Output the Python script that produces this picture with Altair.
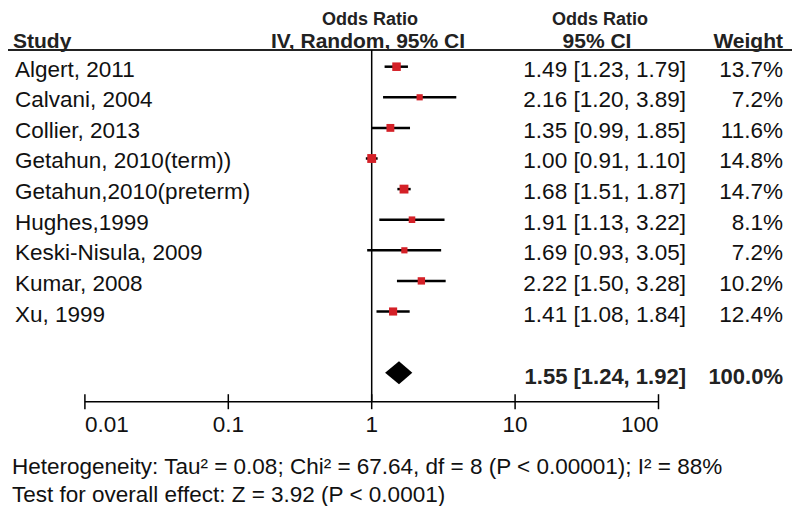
import altair as alt
import pandas as pd

# ---- data ----
studies = ["Algert, 2011", "Calvani, 2004", "Collier, 2013", "Getahun, 2010(term))",
           "Getahun,2010(preterm)", "Hughes,1999", "Keski-Nisula, 2009", "Kumar, 2008", "Xu, 1999"]
odds = [1.49, 2.16, 1.35, 1.00, 1.68, 1.91, 1.69, 2.22, 1.41]
ci_low = [1.23, 1.20, 0.99, 0.91, 1.51, 1.13, 0.93, 1.50, 1.08]
ci_high = [1.79, 3.89, 1.85, 1.10, 1.87, 3.22, 3.05, 3.28, 1.84]
weights = [13.7, 7.2, 11.6, 14.8, 14.7, 8.1, 7.2, 10.2, 12.4]

total_or = 1.55
total_low = 1.24
total_high = 1.92
total_weight = 100.0

tick_values = [0.01, 0.1, 1, 10, 100]
tick_labels = ["0.01", "0.1", "1", "10", "100"]

header1 = ["Odds Ratio", "Odds Ratio"]
header2 = ["Study", "IV, Random, 95% CI", "95% CI", "Weight"]
footer = ["Heterogeneity: Tau\u00b2 = 0.08; Chi\u00b2 = 67.64, df = 8 (P < 0.00001); I\u00b2 = 88%",
          "Test for overall effect: Z = 3.92 (P < 0.0001)"]

# ---- layout ----
W, H = 784, 498
FONT = "Liberation Sans"
BODY = 22.5
HEAD = 21
summary_row = len(studies) + 1
axis_y = 393.7
line_y = 42

df = pd.DataFrame({
    "study": studies, "or": odds, "lo": ci_low, "hi": ci_high, "weight": weights,
    "row": list(range(len(studies))),
})
df["ci_text"] = [f"{o:.2f} [{l:.2f}, {h:.2f}]" for o, l, h in zip(odds, ci_low, ci_high)]
df["w_text"] = [f"{w:.1f}%" for w in weights]

x_scale = alt.Scale(type="log", domain=[0.002909, 853.1], nice=False)
y_scale = alt.Scale(domain=[-1.918, 14.356], reverse=True, nice=False, zero=False)

X = lambda f: alt.X(f, type="quantitative", scale=x_scale, axis=None)
Y = lambda f: alt.Y(f, type="quantitative", scale=y_scale, axis=None)

base = alt.Chart(df)

ci_lines = base.mark_rule(color="black", strokeWidth=2.5).encode(
    x=X("lo"), x2="hi", y=Y("row"))
squares = base.mark_square(filled=True, color="#d42027", opacity=1).encode(
    x=X("or"), y=Y("row"),
    size=alt.Size("weight:Q", scale=alt.Scale(domain=[0, 15], range=[0, 80]), legend=None))

txt_kw = dict(baseline="alphabetic", font=FONT, fontSize=BODY, color="#111", dy=10)
study_text = base.mark_text(align="left", **txt_kw).encode(
    x=alt.value(7), y=Y("row"), text="study:N")
ci_text = base.mark_text(align="right", **txt_kw).encode(
    x=alt.value(678), y=Y("row"), text="ci_text:N")
w_text = base.mark_text(align="right", **txt_kw).encode(
    x=alt.value(775), y=Y("row"), text="w_text:N")

# summary diamond
half = 0.376
dia = pd.DataFrame({
    "x": [total_low, total_or, total_high],
    "y1": [summary_row, summary_row - half, summary_row],
    "y2": [summary_row, summary_row + half, summary_row],
})
diamond = alt.Chart(dia).mark_area(color="black", opacity=1).encode(
    x=X("x"), y=Y("y1"), y2="y2")

summ = pd.DataFrame({
    "row": [summary_row],
    "ci": [f"{total_or:.2f} [{total_low:.2f}, {total_high:.2f}]"],
    "w": [f"{total_weight:.1f}%"],
})
sum_kw = dict(baseline="alphabetic", font=FONT, fontSize=22, fontWeight="bold", color="#222", dy=11)
summ_ci = alt.Chart(summ).mark_text(align="right", **sum_kw).encode(
    x=alt.value(678), y=Y("row"), text="ci:N")
summ_w = alt.Chart(summ).mark_text(align="right", **sum_kw).encode(
    x=alt.value(775), y=Y("row"), text="w:N")

# reference line at OR = 1
ref = alt.Chart(pd.DataFrame({"v": [1.0]})).mark_rule(color="black", strokeWidth=1.5).encode(
    x=X("v"), y=alt.value(line_y), y2=alt.value(axis_y))

# axis
ticks_df = pd.DataFrame({"t": tick_values, "label": tick_labels})
axis_line = alt.Chart(pd.DataFrame({"a": [min(tick_values)], "b": [max(tick_values)]})).mark_rule(
    color="black", strokeWidth=1.5).encode(x=X("a"), x2="b", y=alt.value(axis_y))
ticks = alt.Chart(ticks_df).mark_rule(color="black", strokeWidth=1.5).encode(
    x=X("t"), y=alt.value(axis_y - 7.5), y2=alt.value(axis_y + 7.5))
lab_kw = dict(baseline="alphabetic", font=FONT, fontSize=BODY, color="#111")
LAB_Y = 423.5
lab_left = alt.Chart(ticks_df.iloc[:1]).mark_text(align="left", **lab_kw).encode(
    x=X("t"), y=alt.value(LAB_Y), text="label:N")
lab_mid = alt.Chart(ticks_df.iloc[1:-1]).mark_text(align="center", **lab_kw).encode(
    x=X("t"), y=alt.value(LAB_Y), text="label:N")
lab_right = alt.Chart(ticks_df.iloc[-1:]).mark_text(align="right", **lab_kw).encode(
    x=X("t"), y=alt.value(LAB_Y), text="label:N")

# header
hdr_kw = dict(baseline="alphabetic", font=FONT, fontSize=HEAD, fontWeight="bold", color="#222")
h1 = alt.Chart(pd.DataFrame({"t": header1, "px": [362, 592]})).mark_text(
    align="center", baseline="alphabetic", font=FONT, fontSize=18, fontWeight="bold", color="#222").encode(
    x=alt.X("px:Q", scale=None), y=alt.value(16.5), text="t:N")
h2a = alt.Chart(pd.DataFrame({"t": header2[:1]})).mark_text(align="left", **hdr_kw).encode(
    x=alt.value(5), y=alt.value(40), text="t:N")
h2b = alt.Chart(pd.DataFrame({"t": header2[1:3], "px": [360, 589]})).mark_text(align="center", **hdr_kw).encode(
    x=alt.X("px:Q", scale=None), y=alt.value(40), text="t:N")
h2c = alt.Chart(pd.DataFrame({"t": header2[3:]})).mark_text(align="right", **hdr_kw).encode(
    x=alt.value(775), y=alt.value(40), text="t:N")
hline = alt.Chart(pd.DataFrame({"a": [0]})).mark_rule(color="#222", strokeWidth=2).encode(
    x=alt.value(-8), x2=alt.value(792), y=alt.value(line_y))

# footer
foot = alt.Chart(pd.DataFrame({"t": footer, "py": [466, 493.5]})).mark_text(
    align="left", baseline="alphabetic", font=FONT, fontSize=BODY, color="#111").encode(
    x=alt.value(4), y=alt.Y("py:Q", scale=None), text="t:N")

chart = alt.layer(
    hline, ref, axis_line, ticks, lab_left, lab_mid, lab_right,
    ci_lines, squares, diamond,
    study_text, ci_text, w_text, summ_ci, summ_w,
    h1, h2a, h2b, h2c, foot,
).properties(width=W, height=H, padding=0, autosize="none").configure_view(stroke=None)

chart.save("out.html", embed_options={"renderer": "svg", "actions": False})
